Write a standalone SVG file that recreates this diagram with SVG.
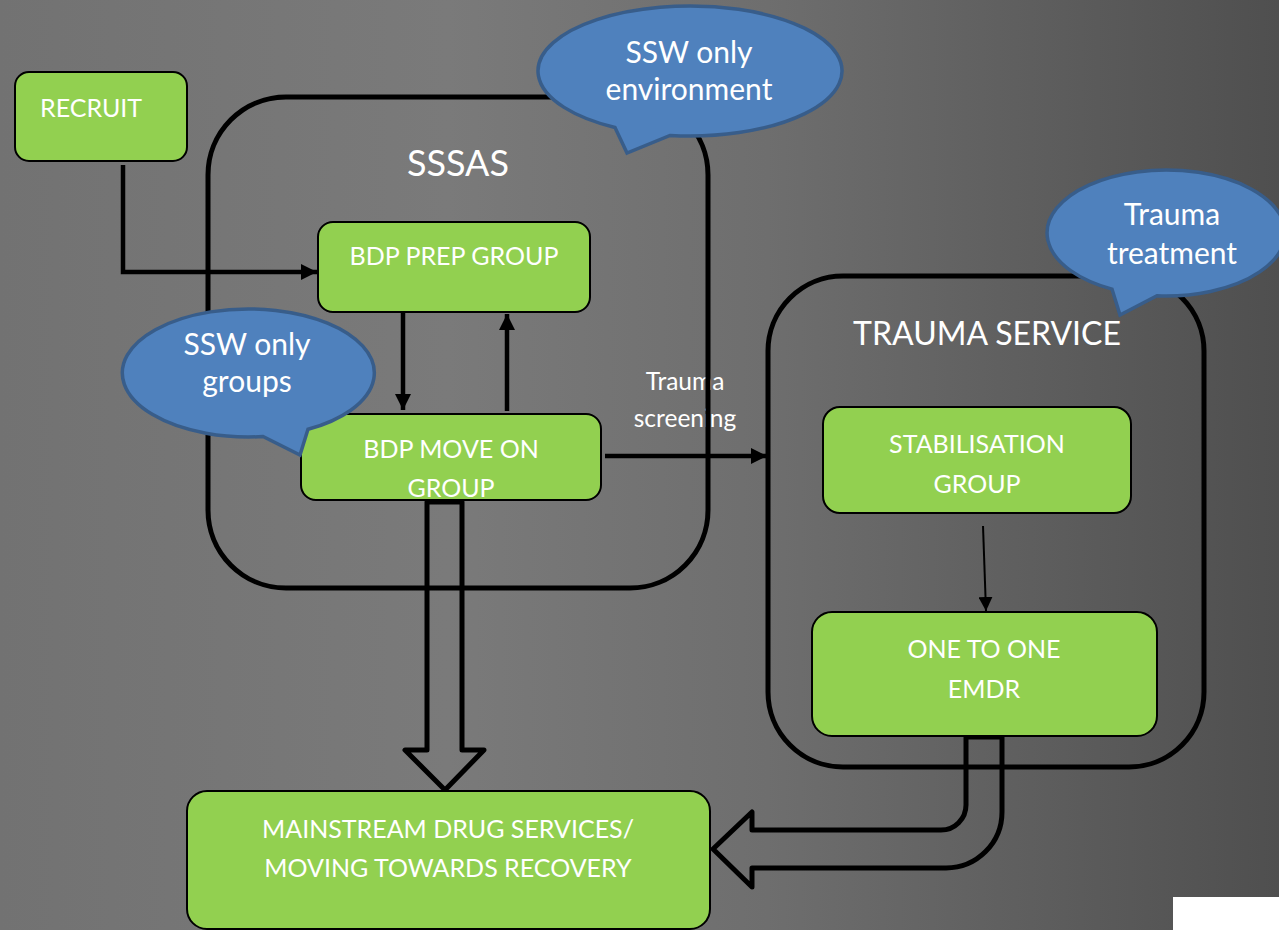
<svg xmlns="http://www.w3.org/2000/svg" width="1279" height="930" viewBox="0 0 1279 930">
  <defs>
    <linearGradient id="bg" x1="0" y1="0" x2="1279" y2="0" gradientUnits="userSpaceOnUse">
      <stop offset="0" stop-color="#727272"/>
      <stop offset="0.35" stop-color="#7a7a7a"/>
      <stop offset="0.6" stop-color="#6e6e6e"/>
      <stop offset="1" stop-color="#4f4f4f"/>
    </linearGradient>
    <marker id="ah" viewBox="0 0 16 16" refX="16" refY="8" markerWidth="16" markerHeight="16" orient="auto" markerUnits="userSpaceOnUse">
      <path d="M0,0 L16,8 L0,16 Z" fill="#000"/>
    </marker>
    <marker id="ahs" viewBox="0 0 14 14" refX="14" refY="7" markerWidth="14" markerHeight="14" orient="auto" markerUnits="userSpaceOnUse">
      <path d="M0,0 L14,7 L0,14 Z" fill="#000"/>
    </marker>
    <style>
      .container { fill: none; stroke: #000; stroke-width: 5; }
      .box { fill: #92d050; stroke: #000; stroke-width: 2; }
      .callout { fill: #4f81bd; stroke: #385d8a; stroke-width: 3.5; }
      .t { font-family: Lato, "Liberation Sans", sans-serif; fill: #fff; }
      .bt { font-size: 25px; text-anchor: middle; }
      .ct { font-size: 30px; text-anchor: middle; }
      .title { text-anchor: middle; }
      .line { fill: none; stroke: #000; stroke-width: 4.5; }
      .thin { fill: none; stroke: #000; stroke-width: 2; }
      .hollow { fill: none; stroke: #000; stroke-width: 5; stroke-linejoin: round; }
    </style>
  </defs>

  <rect x="0" y="0" width="1279" height="930" fill="url(#bg)"/>
  <rect x="1173" y="897" width="106" height="33" fill="#fff"/>

  <g id="connectors">
    <path class="line" d="M123 165 V272 H317" marker-end="url(#ah)"/>
    <path class="line" d="M403 313 V410" marker-end="url(#ah)"/>
    <path class="line" d="M507 411 V314" marker-end="url(#ah)"/>
    <path class="line" d="M605 456 H767" marker-end="url(#ah)"/>
    <text class="t" font-size="24.5" text-anchor="middle" x="685" y="390">Trauma</text>
    <text class="t" font-size="24.5" text-anchor="middle" x="685" y="427">screening</text>
    <path class="thin" d="M983 526 L986 611" marker-end="url(#ahs)"/>
    <path class="hollow" d="M427 502 H462 V750 H484 L445 790 L405 750 H427 Z"/>
    <path class="hollow" d="M966 737 H1002 V812 A56 56 0 0 1 946 868 H752 V887 L713 849 L752 812 V830 H941 A25 25 0 0 0 966 805 Z"/>
  </g>

  <g id="sssas">
    <rect class="container" x="208" y="97" width="500" height="491" rx="78"/>
    <text class="t title" font-size="36" x="458" y="176">SSSAS</text>
  </g>

  <g id="trauma-service">
    <rect class="container" x="768" y="276" width="436" height="491" rx="75"/>
    <text class="t title" font-size="32" x="987" y="345">TRAUMA SERVICE</text>
  </g>

  <g id="recruit">
    <rect class="box" x="15" y="72" width="172" height="89" rx="14"/>
    <text class="t" font-size="25" x="40" y="117">RECRUIT</text>
  </g>

  <g id="bdp-prep">
    <rect class="box" x="318" y="222" width="272" height="90" rx="15"/>
    <text class="t bt" x="454" y="265">BDP PREP GROUP</text>
  </g>

  <g id="bdp-move-on">
    <rect class="box" x="301" y="414" width="300" height="86" rx="15"/>
    <text class="t bt" x="451" y="458">BDP MOVE ON</text>
    <text class="t bt" x="451" y="497">GROUP</text>
  </g>

  <g id="stabilisation">
    <rect class="box" x="823" y="407" width="308" height="106" rx="17"/>
    <text class="t bt" x="977" y="453">STABILISATION</text>
    <text class="t bt" x="977" y="493">GROUP</text>
  </g>

  <g id="emdr">
    <rect class="box" x="812" y="612" width="345" height="124" rx="20"/>
    <text class="t bt" x="984" y="658">ONE TO ONE</text>
    <text class="t bt" x="984" y="698">EMDR</text>
  </g>

  <g id="mainstream">
    <rect class="box" x="187" y="791" width="523" height="138" rx="20"/>
    <text class="t bt" x="448" y="838">MAINSTREAM DRUG SERVICES/</text>
    <text class="t bt" x="448" y="877">MOVING TOWARDS RECOVERY</text>
  </g>

  <g id="callout-environment">
    <path class="callout" d="M670 135.4 A152 65 0 1 0 615 127.5 L627 153 Z"/>
    <text class="t ct" x="689" y="63">SSW only</text>
    <text class="t ct" x="689" y="100">environment</text>
  </g>

  <g id="callout-groups">
    <path class="callout" d="M308 429.3 A126 64 0 1 0 263 436.5 L300 455 Z"/>
    <text class="t ct" x="247" y="355">SSW only</text>
    <text class="t ct" x="247" y="392">groups</text>
  </g>

  <g id="callout-trauma">
    <path class="callout" d="M1157 295.8 A119 63 0 1 0 1112 289.1 L1120 315 Z"/>
    <text class="t ct" x="1172" y="225">Trauma</text>
    <text class="t ct" x="1172" y="264">treatment</text>
  </g>
</svg>
